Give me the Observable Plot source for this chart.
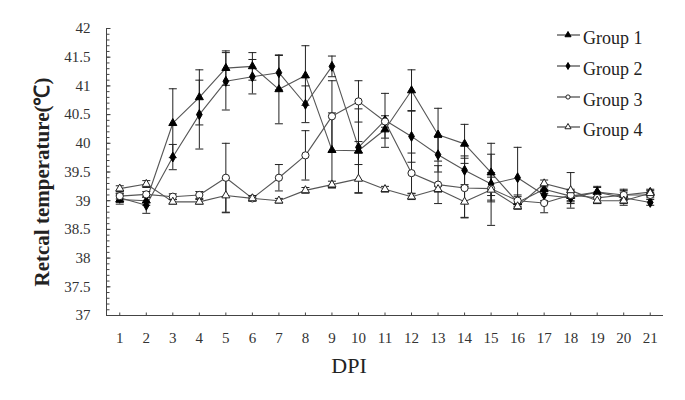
<!DOCTYPE html>
<html>
<head>
<meta charset="utf-8">
<script src="https://cdn.jsdelivr.net/npm/d3@7"></script>
<script src="https://cdn.jsdelivr.net/npm/@observablehq/plot@0.6"></script>
<style>
  html, body { margin: 0; padding: 0; background: #fff; }
  #wrap { position: relative; width: 685px; height: 400px; font-family: "Liberation Serif", "Times New Roman", serif; }
  #legend { position: absolute; left: 0; top: 0; }
</style>
</head>
<body>
<div id="wrap"></div>
<script>
// ---- data ----
const days = [1, 2, 3, 4, 5, 6, 7, 8, 9, 10, 11, 12, 13, 14, 15, 16, 17, 18, 19, 20, 21];
const groups = ["Group 1", "Group 2", "Group 3", "Group 4"];

const group1 = [39.02, 39.0, 40.35, 40.8, 41.31, 41.34, 40.94, 41.18, 39.88, 39.87, 40.24, 40.92, 40.15, 39.99, 39.49, 38.97, 39.2, 39.08, 39.15, 39.1, 39.15];
const group1Err = [0.08, 0.08, 0.6, 0.48, 0.3, 0.24, 0.6, 0.52, 0.65, 0.73, 0.15, 0.36, 0.46, 0.34, 0.51, 0.1, 0.08, 0.1, 0.1, 0.08, 0.05];

const group2 = [39.05, 38.92, 39.76, 40.5, 41.08, 41.16, 41.23, 40.68, 41.34, 39.93, 40.4, 40.12, 39.8, 39.53, 39.29, 39.4, 39.1, 39.05, 39.15, 39.05, 38.97];
const group2Err = [0.08, 0.14, 0.22, 0.6, 0.5, 0.3, 0.3, 0.32, 0.18, 0.1, 0.47, 0.45, 0.3, 0.25, 0.2, 0.53, 0.1, 0.1, 0.08, 0.1, 0.05];

const group3 = [39.08, 39.11, 39.07, 39.1, 39.4, 39.04, 39.4, 39.79, 40.47, 40.73, 40.38, 39.48, 39.28, 39.22, 39.21, 39.0, 38.96, 39.1, 39.05, 39.1, 39.1];
const group3Err = [0.05, 0.05, 0.05, 0.06, 0.6, 0.05, 0.23, 0.43, 0.62, 0.36, 0.1, 0.35, 0.33, 0.52, 0.2, 0.1, 0.17, 0.1, 0.1, 0.1, 0.05];

const group4 = [39.21, 39.29, 38.98, 38.98, 39.09, 39.04, 39.0, 39.18, 39.28, 39.38, 39.2, 39.07, 39.2, 38.98, 39.19, 38.9, 39.3, 39.18, 39.0, 39.0, 39.13];
const group4Err = [0.05, 0.06, 0.04, 0.04, 0.3, 0.04, 0.04, 0.05, 0.06, 0.25, 0.05, 0.05, 0.05, 0.27, 0.62, 0.05, 0.06, 0.31, 0.05, 0.08, 0.05];

const yMajorTicks = [37, 37.5, 38, 38.5, 39, 39.5, 40, 40.5, 41, 41.5, 42];
const yTitle = "Retcal temperature(℃)";
const xTitle = "DPI";

// ---- build table ----
const series = [group1, group2, group3, group4];
const errs = [group1Err, group2Err, group3Err, group4Err];
const rows = [];
groups.forEach((g, i) => days.forEach((d, j) => rows.push({group: g, day: d, value: series[i][j], err: errs[i][j]})));
const yMinorTicks = d3.range(370, 421).map(v => v / 10);

// custom symbols
const capSym = {draw(ctx) { ctx.moveTo(-4, 0); ctx.lineTo(4, 0); }};
const yTickSym = {draw(ctx) { ctx.moveTo(0, 0); ctx.lineTo(3, 0); }};
const yMajSym = {draw(ctx) { ctx.moveTo(0, 0); ctx.lineTo(4, 0); }};
const xTickSym = {draw(ctx) { ctx.moveTo(0, 0); ctx.lineTo(0, -3); }};

const styles = [
  {symbol: "triangle", fill: "black", stroke: "black", r: 3.0},
  {symbol: "diamond", fill: "black", stroke: "black", r: 3.0},
  {symbol: "circle", fill: "white", stroke: "#222", r: 3.6},
  {symbol: "triangle", fill: "white", stroke: "#222", r: 3.0}
];

const markerMarks = groups.map((g, i) =>
  Plot.dot(rows.filter(r => r.group === g), {x: "day", y: "value", symbol: styles[i].symbol, fill: styles[i].fill, stroke: styles[i].stroke, r: styles[i].r, strokeWidth: 1})
);

const chart = Plot.plot({
  width: 685,
  height: 400,
  marginLeft: 106,
  marginRight: 22,
  marginTop: 28,
  marginBottom: 85,
  style: {fontFamily: "'Liberation Serif', 'Times New Roman', serif", fontSize: "15px", background: "white", color: "#222"},
  x: {domain: [0.5, 21.5]},
  y: {domain: [37, 42]},
  marks: [
    Plot.ruleY([37], {stroke: "#444"}),
    Plot.ruleX([0.5], {stroke: "#444"}),
    Plot.dot(yMinorTicks, {x: () => 0.5, y: d => d, symbol: yTickSym, stroke: "#444", strokeWidth: 1}),
    Plot.dot(yMajorTicks, {x: () => 0.5, y: d => d, symbol: yMajSym, stroke: "#444", strokeWidth: 1}),
    Plot.dot(days, {x: d => d, y: () => 37, symbol: xTickSym, stroke: "#444", strokeWidth: 1}),
    Plot.axisY({ticks: yMajorTicks, tickSize: 0, tickPadding: 16, tickFormat: d => String(d), label: null, fontSize: 15, fill: "#333"}),
    Plot.axisX({ticks: days, tickSize: 0, tickPadding: 17, tickFormat: d => String(d), label: null, fontSize: 15, fill: "#333"}),
    Plot.text([yTitle], {frameAnchor: "left", textAnchor: "middle", rotate: -90, dx: -64, dy: 10, fontSize: 21, fontWeight: "bold", fill: "#222"}),
    Plot.text([xTitle], {frameAnchor: "bottom", dx: -36, dy: 57, fontSize: 22, fill: "#222"}),
    Plot.line(rows, {x: "day", y: "value", z: "group", stroke: "#555", strokeWidth: 1.1}),
    Plot.ruleX(rows, {x: "day", y1: d => d.value - d.err, y2: d => d.value + d.err, stroke: "#222", strokeWidth: 1}),
    Plot.dot(rows, {x: "day", y: d => d.value + d.err, symbol: capSym, stroke: "#222", strokeWidth: 1}),
    Plot.dot(rows, {x: "day", y: d => d.value - d.err, symbol: capSym, stroke: "#222", strokeWidth: 1}),
    ...markerMarks
  ]
});

const wrap = document.getElementById("wrap");
wrap.appendChild(chart);

// ---- legend ----
const legendRows = [35, 66, 97, 127];
const baseOffset = 9;
const leg = d3.select(wrap).append("svg").attr("id", "legend").attr("width", 685).attr("height", 400)
  .style("pointer-events", "none");
const symGen = [d3.symbolTriangle, d3.symbolDiamond, d3.symbolCircle, d3.symbolTriangle];
const symSize = [16, 14, 14, 16];
groups.forEach((g, i) => {
  const y = legendRows[i];
  const gEl = leg.append("g");
  gEl.append("line").attr("x1", 557).attr("x2", 580).attr("y1", y).attr("y2", y).attr("stroke", "#333").attr("stroke-width", 1.1);
  gEl.append("path").attr("d", d3.symbol(symGen[i], symSize[i])()).attr("transform", `translate(568,${y})`)
    .attr("fill", styles[i].fill).attr("stroke", styles[i].stroke).attr("stroke-width", 1);
  gEl.append("text").attr("x", 583).attr("y", y + baseOffset).attr("font-size", 18)
    .attr("font-family", "'Liberation Serif', 'Times New Roman', serif").attr("fill", "#222").text(g);
});
</script>
</body>
</html>
